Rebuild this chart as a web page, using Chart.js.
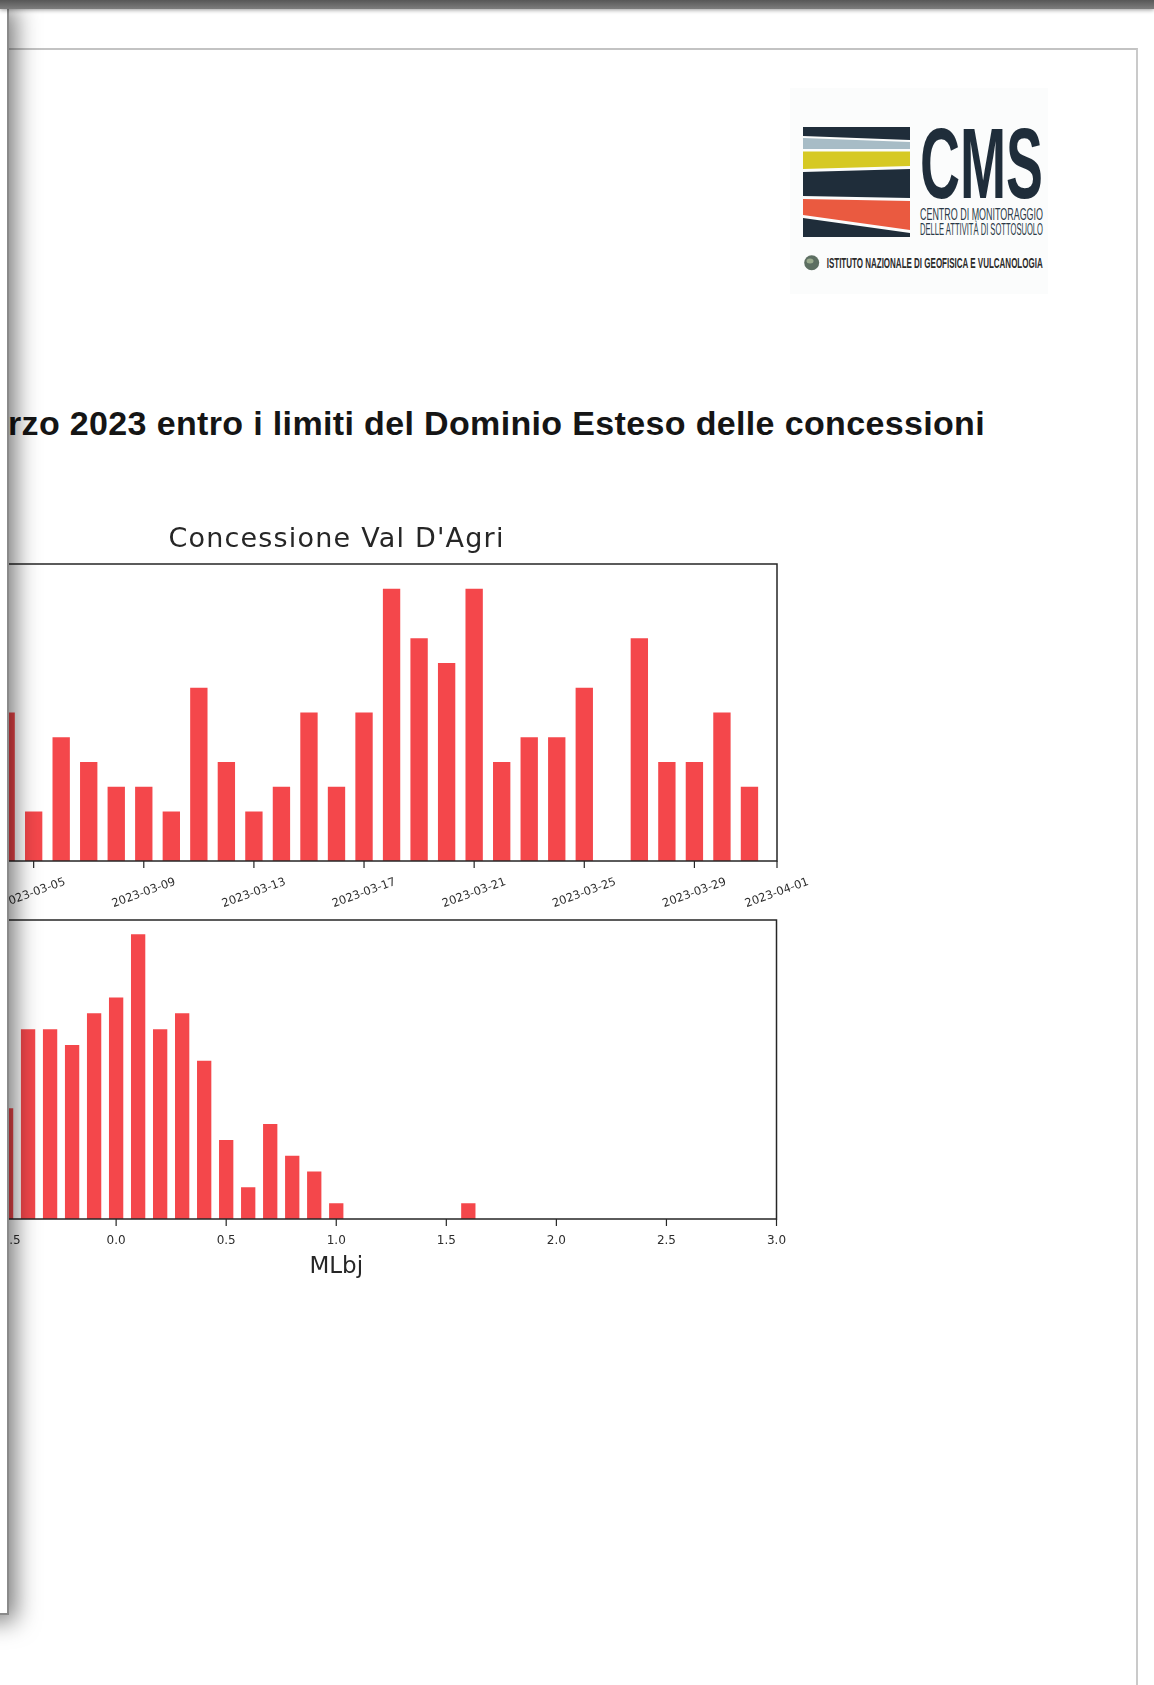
<!DOCTYPE html>
<html>
<head>
<meta charset="utf-8">
<script src="https://cdn.jsdelivr.net/npm/chart.js@4.4.0/dist/chart.umd.min.js"></script>
<style>
  html, body { margin: 0; padding: 0; width: 1154px; height: 1685px; overflow: hidden; background: #fff; }
  #topbar { position: absolute; left: 0; top: 0; width: 1154px; height: 9px;
            background: linear-gradient(#575757, #7d7d7d); box-shadow: 0 1px 4px rgba(0,0,0,.4); z-index: 6; }
  #page { position: absolute; left: 0; top: 48px; width: 1136px; height: 1700px;
          border-top: 2px solid #c3c3c3; border-right: 2px solid #cacaca; }
  #sidebar { position: absolute; left: -20px; top: 8px; width: 27px; height: 1605px; background: #fff;
             border-right: 2px solid #8a8a8a; border-bottom: 2px solid #8a8a8a;
             box-shadow: 3px 3px 24px 3px rgba(0,0,0,.55); z-index: 5; }
  #heading { position: absolute; left: 8px; top: 404px; line-height: 34px; white-space: nowrap; letter-spacing: 0.35px;
             font: bold 34px "Liberation Sans", Arial, sans-serif; color: #151515; }
  #logo { position: absolute; left: 790px; top: 88px; }
  canvas { position: absolute; }
  #dailyChart { left: -124px; top: 500px; }
  #magChart { left: -124px; top: 890px; }
</style>
</head>
<body>
<div id="topbar"></div>
<div id="page"></div>
<div id="sidebar"></div>

<svg id="logo" width="262" height="210" viewBox="0 0 262 210">
  <rect x="0" y="0" width="258" height="206" fill="#fbfcfc"/>
  <polygon points="13,39 120,39 120,52 13,48" fill="#1f2d3a"/>
  <polygon points="13,50 120,54 120,61 13,61" fill="#a7bcc6"/>
  <polygon points="13,63.5 120,63.5 120,78 13,81" fill="#d6c924"/>
  <polygon points="13,84 120,81 120,110 13,108" fill="#1f2d3a"/>
  <polygon points="13,111 120,113 120,142 13,127" fill="#ea5a40"/>
  <polygon points="13,130 120,145 120,149 13,149" fill="#1f2d3a"/>
  <text x="130" y="110.3" font-family="Liberation Sans, Arial, sans-serif" font-weight="bold" font-size="100"
        textLength="123" lengthAdjust="spacingAndGlyphs" fill="#1f2d3a">CMS</text>
  <text x="130" y="132" font-family="Liberation Sans, Arial, sans-serif" font-size="16"
        textLength="123" lengthAdjust="spacingAndGlyphs" fill="#2b3a47">CENTRO DI MONITORAGGIO</text>
  <text x="130" y="147" font-family="Liberation Sans, Arial, sans-serif" font-size="16"
        textLength="123" lengthAdjust="spacingAndGlyphs" fill="#2b3a47">DELLE ATTIVITÀ DI SOTTOSUOLO</text>
  <circle cx="21.7" cy="174.7" r="7.5" fill="#5d6f62"/>
  <ellipse cx="20" cy="173" rx="3.5" ry="2.5" fill="#9aab8e"/>
  <text x="36.7" y="180.3" font-family="Liberation Sans, Arial, sans-serif" font-weight="bold" font-size="15"
        textLength="216" lengthAdjust="spacingAndGlyphs" fill="#2b2b2b">ISTITUTO NAZIONALE DI GEOFISICA E VULCANOLOGIA</text>
</svg>

<div id="heading">rzo 2023 entro i limiti del Dominio Esteso delle concessioni</div>

<canvas id="dailyChart" width="964" height="430"></canvas>
<canvas id="magChart" width="964" height="410"></canvas>

<script>
// events per day, day number counted from 2023-02-28 (= 0)
const eventDays = [4, 5, 6, 7, 8, 9, 10, 11, 12, 13, 14, 15, 16, 17, 18, 19, 20, 21, 22, 23, 24, 25, 26, 27, 28, 29, 30, 31];
const eventCounts = [6, 2, 5, 4, 3, 3, 2, 7, 4, 2, 3, 6, 3, 6, 11, 9, 8, 11, 4, 5, 5, 7, 0, 9, 4, 4, 6, 3];
const dateTickDays = [1, 5, 9, 13, 17, 21, 25, 29, 32];
const dateTickLabels = ['2023-03-01', '2023-03-05', '2023-03-09', '2023-03-13', '2023-03-17',
                        '2023-03-21', '2023-03-25', '2023-03-29', '2023-04-01'];

// magnitude distribution (MLbj)
const magBins = [-0.5, -0.4, -0.3, -0.2, -0.1, 0.0, 0.1, 0.2, 0.3, 0.4, 0.5, 0.6, 0.7, 0.8, 0.9, 1.0, 1.6];
const magCounts = [7, 12, 12, 11, 13, 14, 18, 12, 13, 10, 5, 2, 6, 4, 3, 1, 1];
const magTicks = [-1.0, -0.5, 0.0, 0.5, 1.0, 1.5, 2.0, 2.5, 3.0];
const magTickLabels = ['\u22121.0', '\u22120.5', '0.0', '0.5', '1.0', '1.5', '2.0', '2.5', '3.0'];

const barColor = '#f4474b';
const inkColor = '#262626';

// matplotlib-like frame: four spines, outward ticks, centred (optionally rotated) labels
function axesFrame(cfg) {
    return {
        id: 'axesFrame',
        afterDatasetsDraw(chart) {
            const { ctx, chartArea: a, scales: { x } } = chart;
            ctx.save();
            ctx.strokeStyle = inkColor;
            ctx.lineWidth = 1.5;
            ctx.strokeRect(a.left, a.top, a.right - a.left, a.bottom - a.top);

            ctx.lineWidth = 1.2;
            ctx.fillStyle = '#2e2e2e';
            ctx.font = cfg.tickFont;
            cfg.ticks.forEach((v, i) => {
                const px = x.getPixelForValue(v);
                ctx.beginPath();
                ctx.moveTo(px, a.bottom);
                ctx.lineTo(px, a.bottom + 7);
                ctx.stroke();
                ctx.save();
                ctx.translate(px, a.bottom + cfg.labelOffset);
                ctx.rotate(-cfg.rotation * Math.PI / 180);
                ctx.textAlign = 'center';
                ctx.textBaseline = 'middle';
                ctx.fillText(cfg.labels[i], 0, 0);
                ctx.restore();
            });

            ctx.fillStyle = inkColor;
            ctx.textAlign = 'center';
            ctx.textBaseline = 'alphabetic';
            const cx = (a.left + a.right) / 2;
            if (cfg.title) {
                ctx.font = '27px "DejaVu Sans"';
                ctx.letterSpacing = '1.2px';
                ctx.fillText(cfg.title, cx, a.top - 17);
                ctx.letterSpacing = '0px';
            }
            if (cfg.xTitle) {
                ctx.font = '23px "DejaVu Sans"';
                ctx.fillText(cfg.xTitle, cx, a.bottom + 54);
            }
            ctx.restore();
        }
    };
}

function barOptions(xMin, xMax, yMax, padding, barPct) {
    return {
        responsive: false,
        animation: false,
        layout: { padding },
        plugins: { legend: { display: false }, tooltip: { enabled: false } },
        datasets: { bar: { barPercentage: barPct, categoryPercentage: 1 } },
        scales: {
            x: { type: 'linear', min: xMin, max: xMax, offset: false, display: false },
            y: { min: 0, max: yMax, display: false }
        }
    };
}

new Chart(document.getElementById('dailyChart').getContext('2d'), {
    type: 'bar',
    data: {
        datasets: [{
            data: eventDays.map((d, i) => ({ x: d, y: eventCounts[i] })),
            backgroundColor: barColor
        }]
    },
    options: barOptions(0, 32, 12, { left: 20, right: 63, top: 64, bottom: 69 }, 0.63),
    plugins: [axesFrame({
        ticks: dateTickDays, labels: dateTickLabels,
        tickFont: '11.5px "DejaVu Sans"', rotation: 20, labelOffset: 32,
        title: "Concessione Val D'Agri"
    })]
});

new Chart(document.getElementById('magChart').getContext('2d'), {
    type: 'bar',
    data: {
        datasets: [{
            data: magBins.map((m, i) => ({ x: m, y: magCounts[i] })),
            backgroundColor: barColor
        }]
    },
    options: barOptions(-1, 3, Math.max(...magCounts) * 1.05, { left: 20, right: 63.5, top: 30, bottom: 81 }, 0.65),
    plugins: [axesFrame({
        ticks: magTicks, labels: magTickLabels,
        tickFont: '12px "DejaVu Sans"', rotation: 0, labelOffset: 22,
        xTitle: 'MLbj'
    })]
});
</script>
</body>
</html>
